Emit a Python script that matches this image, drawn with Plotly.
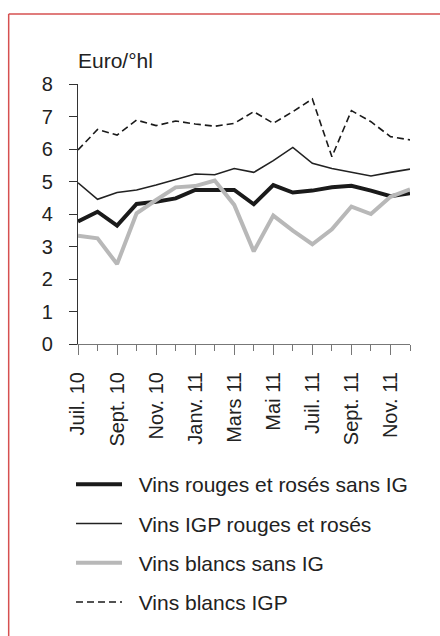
import plotly.graph_objects as go

months = ["Juil. 10", "Août 10", "Sept. 10", "Oct. 10", "Nov. 10", "Déc. 10",
          "Janv. 11", "Févr. 11", "Mars 11", "Avr. 11", "Mai 11", "Juin 11",
          "Juil. 11", "Août 11", "Sept. 11", "Oct. 11", "Nov. 11", "Déc. 11"]

rouges_sans_ig = [3.77, 4.07, 3.64, 4.31, 4.38, 4.48, 4.74, 4.74, 4.74, 4.30,
                  4.89, 4.66, 4.72, 4.82, 4.87, 4.72, 4.55, 4.64]
igp_rouges = [4.96, 4.45, 4.66, 4.74, 4.89, 5.05, 5.23, 5.21, 5.40, 5.28,
              5.64, 6.05, 5.56, 5.40, 5.28, 5.17, 5.28, 5.38]
blancs_sans_ig = [3.33, 3.25, 2.46, 4.02, 4.43, 4.82, 4.86, 5.03, 4.28, 2.85,
                  3.95, 3.49, 3.07, 3.53, 4.23, 4.00, 4.53, 4.76]
blancs_igp = [5.97, 6.60, 6.43, 6.89, 6.72, 6.86, 6.77, 6.70, 6.79, 7.15,
              6.79, 7.15, 7.54, 5.76, 7.18, 6.84, 6.38, 6.28]

series_names = ["Vins rouges et rosés sans IG", "Vins IGP rouges et rosés",
                "Vins blancs sans IG", "Vins blancs IGP"]

y_ticks = [0, 1, 2, 3, 4, 5, 6, 7, 8]
x_idx = list(range(len(months)))
label_idx = x_idx[::2]
label_text = [months[i] for i in label_idx]

FONT = "Liberation Sans, Arial, sans-serif"
NB = "\u00a0\u00a0"

fig = go.Figure()
styles = [
    dict(color="#1a1a1a", width=4),
    dict(color="#222222", width=1.6),
    dict(color="#b8b8b8", width=4),
    dict(color="#1a1a1a", width=1.6, dash="7px,4px"),
]
for i, (name, vals) in enumerate(zip(series_names,
                                     [rouges_sans_ig, igp_rouges, blancs_sans_ig, blancs_igp])):
    fig.add_trace(go.Scatter(x=x_idx, y=vals, mode="lines", name=NB + name,
                             line=styles[i], legendgroup=f"g{i}"))

# figure fills the page (body margin removed in post_script)
W, H = 440, 636
L, R = 78, 410.4
T, B = 84, 344
pw, ph = R - L, B - T

def px_x(px):
    return (px - L) / pw

def px_y(py):
    return (B - py) / ph

fig.update_layout(
    width=W, height=H,
    margin=dict(l=L, r=W - R, t=T, b=H - B, pad=0, autoexpand=False),
    paper_bgcolor="white", plot_bgcolor="white",
    font=dict(family=FONT, size=20, color="#222222"),
    showlegend=True,
    legend=dict(x=px_x(71), y=px_y(464),
                xanchor="left", yanchor="top", font=dict(size=21, color="#222222"),
                tracegroupgap=9, itemwidth=46, bgcolor="rgba(0,0,0,0)",
                traceorder="grouped"),
    xaxis=dict(range=[0, 17], tickvals=label_idx, ticktext=label_text,
               tickangle=-90, ticks="outside", ticklen=10, tickwidth=1.2,
               tickcolor="#777777", showline=True, linecolor="#777777",
               linewidth=1.2, showgrid=False, zeroline=False,
               ticklabelstandoff=9,
               minor=dict(dtick=1, tick0=0, ticks="outside", ticklen=6,
                          tickcolor="#777777", tickwidth=1.2, showgrid=False)),
    yaxis=dict(range=[0, 8], tickvals=y_ticks, ticks="outside", ticklen=8,
               tickwidth=1.2, tickcolor="#333333", showline=True,
               linecolor="#333333", linewidth=1.2, showgrid=False,
               zeroline=False, ticklabelstandoff=12),
)

fig.add_annotation(text="Euro/°hl", xref="paper", yref="paper",
                   x=px_x(76), y=px_y(60), xanchor="left", yanchor="middle",
                   showarrow=False, font=dict(size=21, color="#222222"))

border = dict(color="#d65050", width=1.5)
fig.add_shape(type="line", xref="paper", yref="paper",
              x0=px_x(8.6), x1=px_x(8.6), y0=px_y(14), y1=px_y(700),
              line=border, layer="below")
fig.add_shape(type="line", xref="paper", yref="paper",
              x0=px_x(8.6), x1=px_x(520), y0=px_y(14), y1=px_y(14),
              line=border, layer="below")

fig.write_html("out.html",
               config={"displayModeBar": False},
               post_script="document.body.style.margin='0';document.body.style.overflow='hidden';")
